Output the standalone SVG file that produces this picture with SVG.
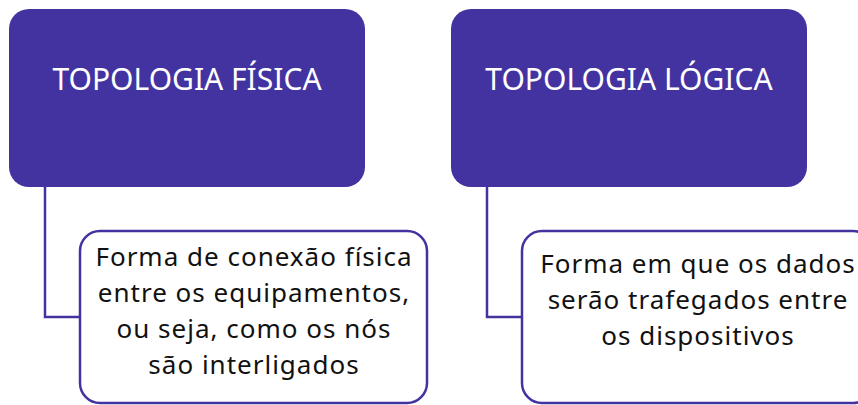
<svg xmlns="http://www.w3.org/2000/svg" width="858" height="405" viewBox="0 0 858 405">
<style>
.head{fill:#4333a1}
.body{fill:#ffffff;stroke:#4333a1;stroke-width:2.5}
.conn{fill:none;stroke:#4333a1;stroke-width:2.5}
.ht{font-family:"Noto Sans",Lato,sans-serif;font-size:30px;fill:#ffffff;text-anchor:middle}
.bt{font-family:"Noto Sans",Lato,sans-serif;font-size:26px;letter-spacing:1px;fill:#111111;text-anchor:middle}
</style>
<rect width="858" height="405" fill="#ffffff"/>
<g id="connectors">
<path class="conn" d="M45,187 V317 H80"/>
<path class="conn" d="M487,187 V317 H522"/>
</g>
<g id="fisica">
<rect class="head" x="9" y="9" width="356" height="178" rx="20"/>
<text class="ht" x="187" y="90">TOPOLOGIA FÍSICA</text>
</g>
<g id="logica">
<rect class="head" x="451" y="9" width="356" height="178" rx="20"/>
<text class="ht" x="629" y="90">TOPOLOGIA LÓGICA</text>
</g>
<g id="fisica-desc">
<rect class="body" x="80" y="231" width="347" height="172" rx="20"/>
<text class="bt" x="254" y="266">Forma de conexão física</text>
<text class="bt" x="254" y="302">entre os equipamentos,</text>
<text class="bt" x="254" y="338">ou seja, como os nós</text>
<text class="bt" x="254" y="374">são interligados</text>
</g>
<g id="logica-desc">
<rect class="body" x="522" y="231" width="351" height="172" rx="20"/>
<text class="bt" x="698" y="273">Forma em que os dados</text>
<text class="bt" x="698" y="309">serão trafegados entre</text>
<text class="bt" x="698" y="345">os dispositivos</text>
</g>
</svg>
